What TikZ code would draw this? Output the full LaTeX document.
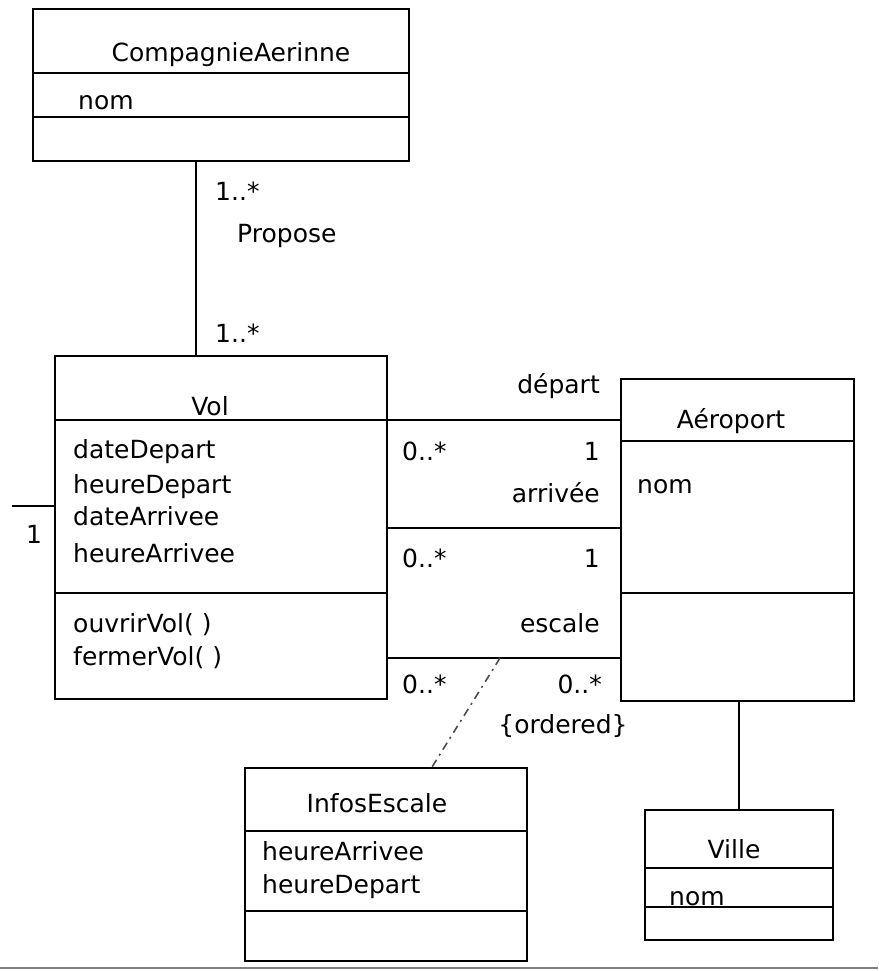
\documentclass[tikz,border=0pt]{standalone}
\usepackage{fontspec}
\setmainfont{DejaVu Sans}
\usetikzlibrary{positioning}

\begin{document}
\begin{tikzpicture}[
  x=1pt, y=-1pt,
  classbox/.style={draw, line width=1.8pt, rectangle, anchor=north west, inner sep=0pt},
  sepline/.style={line width=1.8pt},
  assoc/.style={line width=1.8pt},
  txt/.style={font=\fontsize{25}{29}\selectfont, inner sep=0pt},
  dashdot/.style={line width=1.6pt, black!70, dash pattern=on 8pt off 5pt on 2pt off 5pt}
]
\useasboundingbox (0,0) rectangle (878,971);

% Class boxes
\node[classbox, minimum width=376pt, minimum height=152pt] (comp) at (32,8) {};
\node[classbox, minimum width=332pt, minimum height=343pt] (vol) at (54,355) {};
\node[classbox, minimum width=233pt, minimum height=322pt] (aero) at (620,378) {};
\node[classbox, minimum width=282pt, minimum height=193pt] (infos) at (244,767) {};
\node[classbox, minimum width=188pt, minimum height=130pt] (ville) at (644,809) {};

% Compartment separators
\foreach \n/\y in {comp/73, comp/117, vol/420, vol/593, aero/441, aero/593,
                   infos/831, infos/911, ville/868, ville/907}{
  \draw[sepline] (\n.west |- 0,\y) -- (\n.east |- 0,\y);
}

% Class names
\node[txt, anchor=base] (compname) at (231,62) {CompagnieAerinne};
\node[txt, anchor=base] (volname) at (210,415) {Vol};
\node[txt, anchor=base] (aeroname) at (731,428) {Aéroport};
\node[txt, anchor=base] (infosname) at (377,812) {InfosEscale};
\node[txt, anchor=base] (villename) at (734,858) {Ville};

% Attributes and operations
\node[txt, anchor=base west] (compnom) at (78,110) {nom};
\node[txt, anchor=base west] (aeronom) at (637,493) {nom};
\node[txt, anchor=base west] (villenom) at (669,905) {nom};
\foreach \t/\y [count=\i] in {dateDepart/458, heureDepart/493, dateArrivee/525,
                              heureArrivee/562, {ouvrirVol( )}/632, {fermerVol( )}/665}{
  \node[txt, anchor=base west] (volattr\i) at (73,\y) {\t};
}
\foreach \t/\y [count=\i] in {heureArrivee/860, heureDepart/893}{
  \node[txt, anchor=base west] (infosattr\i) at (262,\y) {\t};
}

% Associations
\draw[assoc] (comp.south -| 196,0) -- (vol.north -| 196,0);
\foreach \y in {420, 528, 658}{
  \draw[assoc] (vol.east |- 0,\y) -- (aero.west |- 0,\y);
}
\draw[assoc] (ville.north) -- (ville.north |- aero.south);
\coordinate (cut) at (12,506);
\draw[assoc] (cut) -- (cut -| vol.west);
\coordinate (escmid) at (500,658);
\draw[dashdot] (escmid) -- (infos.north -| 432,0);

% Multiplicities and roles
\node[txt, anchor=base west] (m1) at (215,200) {1..*};
\node[txt, anchor=base west] (propose) at (237,242) {Propose};
\node[txt, anchor=base west] (m2) at (215,342) {1..*};
\node[txt, anchor=base west] (m3) at (26,543) {1};
\foreach \y [count=\i] in {460, 567, 693}{
  \node[txt, anchor=base west] (vm\i) at (402,\y) {0..*};
}
\node[txt, anchor=base east] (depart) at (600,393) {départ};
\node[txt, anchor=base east] (am1) at (600,460) {1};
\node[txt, anchor=base east] (arrivee) at (600,502) {arrivée};
\node[txt, anchor=base east] (am2) at (600,567) {1};
\node[txt, anchor=base east] (escale) at (600,632) {escale};
\node[txt, anchor=base east] (am3) at (602,693) {0..*};
\node[txt, anchor=base] (ordered) at (563,733) {\{ordered\}};

% Bottom border
\draw[line width=2pt, gray] (0,968) -- (878,968);

\end{tikzpicture}
\end{document}
